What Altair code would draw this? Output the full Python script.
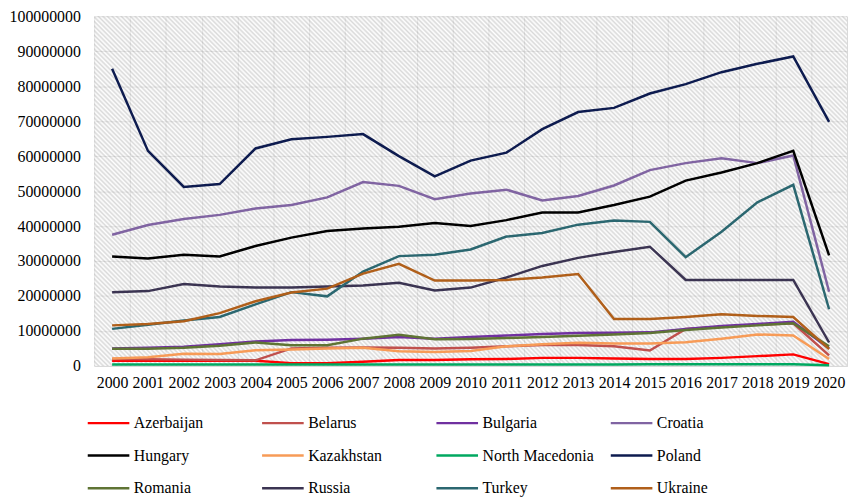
import altair as alt
import pandas as pd

years = [str(y) for y in range(2000, 2021)]

countries = ["Azerbaijan", "Belarus", "Bulgaria", "Croatia", "Hungary", "Kazakhstan",
             "North Macedonia", "Poland", "Romania", "Russia", "Turkey", "Ukraine"]

colors = ["#FF0000", "#C0504D", "#7030A0", "#8064A2", "#000000", "#F79B57",
          "#00A860", "#0D1B4F", "#5F7434", "#3B3452", "#2B6770", "#B05F1A"]

# values in millions
azerbaijan = [1.5, 1.5, 1.5, 1.5, 1.5, 0.8, 0.8, 1.2, 1.7, 1.7, 1.9, 2.0, 2.3, 2.3, 2.1, 2.0, 2.0, 2.3, 2.8, 3.3, 0.5]
belarus = [2.0, 1.9, 1.8, 1.7, 1.6, 5.0, 5.2, 5.3, 5.2, 5.0, 5.2, 5.6, 6.0, 6.0, 5.6, 4.4, 10.6, 11.2, 11.8, 12.2, 3.0]
bulgaria = [5.0, 5.2, 5.5, 6.2, 7.0, 7.4, 7.5, 7.8, 8.3, 7.8, 8.3, 8.7, 9.1, 9.4, 9.5, 9.6, 10.6, 11.4, 12.0, 12.6, 5.0]
croatia = [37.5, 40.3, 42.0, 43.2, 45.0, 46.0, 48.2, 52.6, 51.5, 47.7, 49.3, 50.4, 47.3, 48.6, 51.6, 56.0, 58.0, 59.4, 58.0, 60.2, 21.2]
hungary = [31.3, 30.7, 31.8, 31.3, 34.3, 36.7, 38.6, 39.3, 39.8, 40.9, 40.0, 41.7, 43.9, 43.9, 46.0, 48.4, 53.0, 55.3, 58.0, 61.5, 31.6]
kazakhstan = [2.1, 2.5, 3.5, 3.4, 4.5, 4.7, 5.0, 5.2, 4.2, 4.0, 4.3, 5.6, 6.2, 6.6, 6.4, 6.4, 6.8, 7.8, 9.0, 8.7, 2.0]
north_macedonia = [0.4, 0.4, 0.4, 0.4, 0.4, 0.4, 0.4, 0.4, 0.4, 0.4, 0.4, 0.4, 0.4, 0.4, 0.4, 0.5, 0.5, 0.5, 0.5, 0.5, 0.2]
poland = [85.0, 61.5, 51.2, 52.0, 62.2, 64.8, 65.5, 66.3, 60.0, 54.2, 58.7, 61.0, 67.7, 72.6, 73.8, 77.9, 80.6, 84.0, 86.4, 88.5, 69.8]
romania = [4.9, 4.9, 5.2, 5.8, 6.7, 5.9, 5.9, 7.8, 8.9, 7.6, 7.7, 8.0, 8.3, 8.6, 9.0, 9.4, 10.3, 11.0, 11.6, 12.2, 5.6]
russia = [21.1, 21.4, 23.4, 22.7, 22.4, 22.4, 22.7, 23.0, 23.8, 21.6, 22.4, 25.3, 28.6, 30.9, 32.6, 34.1, 24.6, 24.6, 24.6, 24.6, 6.7]
turkey = [10.6, 11.8, 13.0, 14.0, 17.6, 21.1, 19.9, 27.0, 31.4, 31.8, 33.3, 37.0, 38.0, 40.4, 41.6, 41.2, 31.1, 38.4, 46.8, 51.8, 16.2]
ukraine = [11.6, 12.0, 12.8, 15.1, 18.5, 21.0, 22.1, 26.4, 29.2, 24.4, 24.4, 24.6, 25.3, 26.3, 13.4, 13.4, 14.0, 14.8, 14.3, 14.0, 4.8]

y_ticks = [0, 10000000, 20000000, 30000000, 40000000, 50000000,
           60000000, 70000000, 80000000, 90000000, 100000000]

series = [azerbaijan, belarus, bulgaria, croatia, hungary, kazakhstan,
          north_macedonia, poland, romania, russia, turkey, ukraine]

rows = []
for c, vals in zip(countries, series):
    for y, v in zip(years, vals):
        rows.append({"country": c, "year": y, "value": v * 1e6})
df = pd.DataFrame(rows)

W, H = 760, 353
FONT = "Liberation Serif"

# diagonal hatching built as a striped linear gradient
s = (W + H) / (W * W + H * H)
n_periods = 240
stops = []
for i in range(2 * n_periods + 1):
    col = "#b4b4b4" if i % 2 == 0 else "#ffffff"
    stops.append(alt.GradientStop(offset=round(i / (2 * n_periods), 6), color=col))
hatch = alt.LinearGradient(gradient="linear", stops=stops,
                           x1=0, y1=1, x2=round(s * W, 5), y2=round(1 - s * H, 5))

bg = alt.Chart(alt.Data(values=[{"a": 1}])).mark_rect(fill=hatch, fillOpacity=0.5).encode(
    x=alt.value(0), x2=alt.value("width"), y=alt.value(0), y2=alt.value("height")
)

lines = alt.Chart(df).mark_line(strokeWidth=2.5).encode(
    x=alt.X("year:O", bandPosition=0.5, sort=years,
            scale=alt.Scale(type="band", paddingInner=0, paddingOuter=0),
            axis=alt.Axis(title=None, labelAngle=0, labelFont=FONT, labelFontSize=16,
                          labelColor="#000000", labelPadding=9, ticks=False,
                          domain=True, domainColor="#d9d9d9", grid=True,
                          gridColor="#d9d9d9", gridWidth=1, tickBand="extent")),
    y=alt.Y("value:Q", scale=alt.Scale(domain=[0, 100000000], nice=False),
            axis=alt.Axis(title=None, values=y_ticks, format="d", labelFont=FONT,
                          labelFontSize=16, labelColor="#000000", labelPadding=14,
                          ticks=False, domain=False, grid=True, gridColor="#d9d9d9",
                          gridWidth=1)),
    color=alt.Color("country:N", sort=countries,
                    scale=alt.Scale(domain=countries, range=colors),
                    legend=alt.Legend(title=None, orient="none", legendX=6, legendY=402,
                                      direction="horizontal",
                                      columns=4, gridAlign="all", columnPadding=11,
                                      rowPadding=16, symbolType="M-3,0H3",
                                      symbolSize=196, symbolStrokeWidth=2.5,
                                      labelFont=FONT, labelFontSize=16,
                                      labelColor="#000000", labelOffset=17,
                                      labelLimit=200)),
)

chart = alt.layer(bg, lines).properties(
    width=W, height=H,
    autosize=alt.AutoSizeParams(type="none"),
    padding={"left": 87, "top": 6, "right": 3, "bottom": 131},
).configure_view(stroke=None)

chart.save("out.html", embed_options={"renderer": "svg", "actions": False})
